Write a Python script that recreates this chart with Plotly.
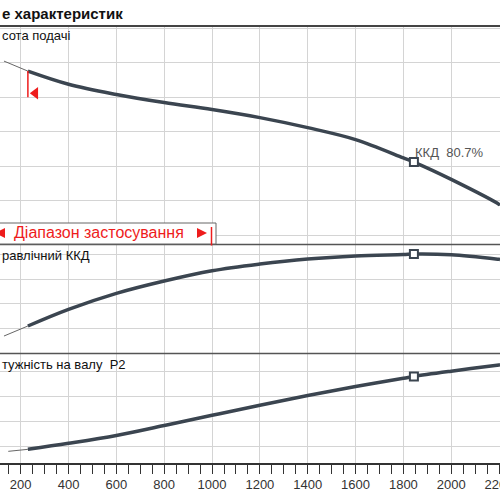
"""Pump characteristic curves: head, hydraulic efficiency and shaft power."""

import plotly.graph_objects as go

# flow rate, common x axis
q_ticks = [200, 400, 600, 800, 1000, 1200, 1400, 1600, 1800, 2000, 2200]
q_tick_labels = [str(v) for v in q_ticks]

# head curve (thin start segment + working part)
head_q_thin = [130, 230]
head_thin = [22.09, 21.51]
head_q = [230, 400, 600, 800, 1000, 1200, 1400, 1600, 1800, 1844, 2000, 2200, 2204]
head = [21.51, 20.75, 20.16, 19.69, 19.29, 18.82, 18.24, 17.55, 16.49, 16.25, 15.25, 13.80, 13.74]

# hydraulic efficiency, %
eta_q_thin = [130, 230]
eta_thin = [13.6, 21.8]
eta_q = [230, 400, 600, 800, 1000, 1200, 1400, 1600, 1800, 1844, 2000, 2200, 2204]
eta = [21.8, 35.4, 48.5, 58.6, 67.0, 72.5, 76.6, 79.1, 80.3, 80.7, 80.1, 76.4, 76.3]

# shaft power P2
p2_q_thin = [148, 230]
p2_thin = [1.63, 1.79]
p2_q = [230, 400, 600, 800, 1000, 1200, 1400, 1600, 1800, 1844, 2000, 2200, 2204]
p2 = [1.79, 2.27, 2.90, 3.70, 4.51, 5.32, 6.10, 6.82, 7.47, 7.62, 8.04, 8.54, 8.55]

# best efficiency point and start of the application range
bep_q = 1844
bep_head = 16.25
bep_eta = 80.7
bep_p2 = 7.62
bep_label = "ККД\u00a0\u00a080.7%"
range_q = 230
range_head = [21.51, 20.0]
range_arrow_q = 261
range_arrow_head = 20.23

CURVE = "#3b4550"
THIN = "#666666"
GRID = "#d4d4d4"
RED = "#ee1c1c"
FONT = "Arial, Liberation Sans, sans-serif"


def py(p):
    """Pixel row of the 500 px picture -> paper y."""
    return 1 - p / 500


def px(p):
    return p / 500


fig = go.Figure()

panels = [
    ("x3", "y3", head_q_thin, head_thin, head_q, head, bep_head),
    ("x2", "y2", eta_q_thin, eta_thin, eta_q, eta, bep_eta),
    ("x", "y", p2_q_thin, p2_thin, p2_q, p2, bep_p2),
]
for xa, ya, qt, vt, q, v, bep in panels:
    fig.add_trace(go.Scatter(x=qt, y=vt, mode="lines", xaxis=xa, yaxis=ya,
                             line=dict(color=THIN, width=1), hoverinfo="skip"))
    fig.add_trace(go.Scatter(x=q, y=v, mode="lines", xaxis=xa, yaxis=ya,
                             line=dict(color=CURVE, width=3.5, shape="spline")))
    fig.add_trace(go.Scatter(x=[bep_q], y=[bep], mode="markers", xaxis=xa, yaxis=ya,
                             marker=dict(symbol="square", size=8, color="white",
                                         line=dict(color=CURVE, width=2))))

# red start-of-range bracket on the head curve
fig.add_trace(go.Scatter(x=[range_q, range_q], y=range_head, mode="lines",
                         xaxis="x3", yaxis="y3", line=dict(color=RED, width=1.5)))
fig.add_trace(go.Scatter(x=[range_arrow_q], y=[range_arrow_head], mode="markers",
                         xaxis="x3", yaxis="y3",
                         marker=dict(symbol="triangle-left", size=11, color=RED)))

x_common = dict(range=[113.4, 2204], showgrid=True, gridcolor=GRID, gridwidth=1,
                tickmode="array", tickvals=q_ticks, zeroline=False, automargin=False)
y_common = dict(showgrid=True, gridcolor=GRID, gridwidth=1, showticklabels=False,
                zeroline=False, ticks="", fixedrange=True, automargin=False)

fig.update_layout(
    width=500, height=500,
    margin=dict(l=0, r=0, t=0, b=0, autoexpand=False),
    paper_bgcolor="white", plot_bgcolor="white",
    showlegend=False,
    font=dict(family=FONT, color="#222222"),
    xaxis=dict(**x_common, anchor="y", ticktext=q_tick_labels,
               ticks="outside", ticklen=9, tickwidth=1, tickcolor="#333333",
               tickfont=dict(size=13, color="#333333"), ticklabeloverflow="allow",
               showline=True, linecolor="#333333", linewidth=1.5,
               minor=dict(ticks="outside", ticklen=9, tickwidth=1,
                          tickcolor="#333333", dtick=50, tick0=0, showgrid=False)),
    xaxis2=dict(**x_common, anchor="y2", matches="x", showticklabels=False, ticks=""),
    xaxis3=dict(**x_common, anchor="y3", matches="x", showticklabels=False, ticks=""),
    yaxis=dict(**y_common, domain=[py(463), py(353.5)], range=[0.696, 9.456],
               tickvals=[2, 4, 6, 8]),
    yaxis2=dict(**y_common, domain=[py(353.5), py(244.5)], range=[-0.7, 88.5],
                tickvals=[20, 40, 60, 80]),
    yaxis3=dict(**y_common, domain=[py(244.5), py(26)], range=[11.48, 24.12],
                tickvals=[12, 14, 16, 18, 20, 22, 24]),
)

# header rule and panel separators
for row, width, color in [(26, 2, "#444444"), (244.5, 1.5, "#555555"), (353.5, 1.5, "#555555")]:
    fig.add_shape(type="line", xref="paper", yref="paper", x0=0, x1=1,
                  y0=py(row), y1=py(row), line=dict(color=color, width=width))

# application range box
fig.add_shape(type="rect", xref="paper", yref="paper",
              x0=-0.01, x1=px(216), y0=py(244), y1=py(223),
              fillcolor="white", line=dict(color="#666666", width=1))
fig.add_shape(type="path", xref="paper", yref="paper", line_width=0, fillcolor=RED,
              path=f"M {px(-5)} {py(233)} L {px(5)} {py(228)} L {px(5)} {py(238)} Z")
fig.add_shape(type="path", xref="paper", yref="paper", line_width=0, fillcolor=RED,
              path=f"M {px(207)} {py(233)} L {px(197)} {py(228)} L {px(197)} {py(238)} Z")
fig.add_shape(type="line", xref="paper", yref="paper", x0=px(211.5), x1=px(211.5),
              y0=py(227), y1=py(245.5), line=dict(color=RED, width=1.5))

annotations = [
    dict(text="<b>е характеристик</b>", x=0, y=py(13), size=15, color="#111111"),
    dict(text="сота подачі", x=0, y=py(35), size=13, color="#111111"),
    dict(text="равлічний ККД", x=0, y=py(255), size=13, color="#111111"),
    dict(text="тужність на валу\u00a0\u00a0P2", x=0, y=py(364), size=13, color="#111111"),
    dict(text="Діапазон застосування", x=px(12), y=py(233), size=16, color=RED),
]
for a in annotations:
    fig.add_annotation(text=a["text"], xref="paper", yref="paper", x=a["x"], y=a["y"],
                       xanchor="left", yanchor="middle", showarrow=False,
                       font=dict(size=a["size"], color=a["color"], family=FONT))

fig.add_annotation(text=bep_label, xref="x3", yref="y3", x=bep_q, y=16.81,
                   xanchor="left", yanchor="middle", showarrow=False, xshift=-1,
                   font=dict(size=13, color="#555555", family=FONT))

# the page's default body margin would push the 500 px figure off the window
fig.write_html("out.html", config={"displayModeBar": False},
               post_script="document.body.style.margin='0';"
                           "document.body.style.overflow='hidden';")
